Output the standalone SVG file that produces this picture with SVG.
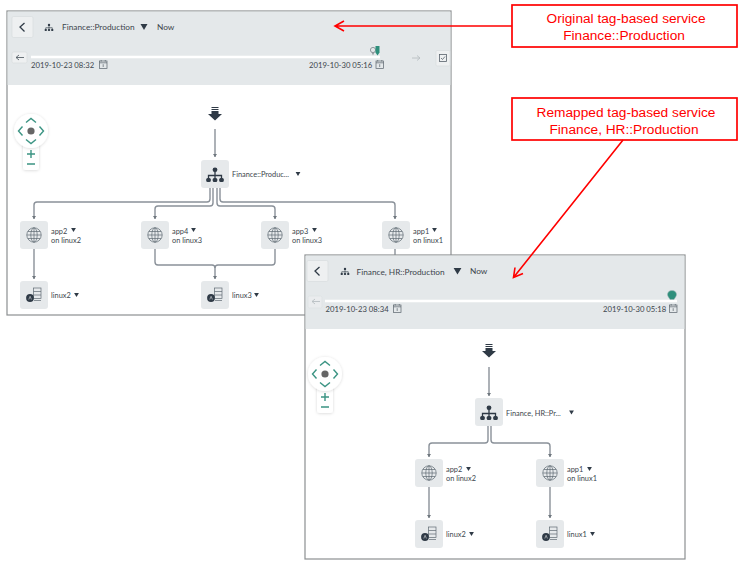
<svg xmlns="http://www.w3.org/2000/svg" width="740" height="565" viewBox="0 0 740 565">
<style>
text{font-family:Lato,"Liberation Sans",sans-serif;fill:#3d464d}
.panel{fill:#fff;stroke:#8c8f91;stroke-width:1.2}
.hdr{fill:#e4e8ea}
.title{font-size:8.3px}
.date{font-size:7.7px}
.lbl{font-size:7.4px}
.box{fill:#e6e9eb}
.conn{fill:none;stroke:#8a9199;stroke-width:1.4}
.red{fill:none;stroke:#f00;stroke-width:1.6}
.callout{fill:#fff;stroke:#f00;stroke-width:1.7}
.ctext{font-family:"Liberation Sans",Arial,sans-serif;font-size:13.7px;fill:#f00;text-anchor:middle}
.btn{fill:#eef0f1;stroke:#d8dcde;stroke-width:.7}
.ink{fill:#2f3a46}
.line{fill:none;stroke:#5f6a73;stroke-width:.7}
.teal{fill:none;stroke:#3b9483;stroke-width:1.4}
.track{stroke:#fff;stroke-width:2.6}
</style>
<defs>
<marker id="ah" markerWidth="5" markerHeight="5" refX="3" refY="2" orient="auto" markerUnits="userSpaceOnUse"><path d="M0 0L3 2L0 4Z" fill="#6e767d"/></marker>
<filter id="sh" x="-40%" y="-40%" width="180%" height="180%"><feDropShadow dx="0" dy="0.5" stdDeviation="1.8" flood-color="#000" flood-opacity=".16"/></filter>
<symbol id="tree" viewBox="0 0 28 28" overflow="visible">
<path d="M14 12V16M7.5 19V15.5H20.5V19M14 16V19" fill="none" stroke="#2f3a46" stroke-width="1.3"/>
<circle cx="14" cy="9.8" r="2.4" class="ink"/><rect x="5.2" y="18" width="4.6" height="4" rx="1.5" class="ink"/><rect x="11.7" y="18" width="4.6" height="4" rx="1.5" class="ink"/><rect x="18.2" y="18" width="4.6" height="4" rx="1.5" class="ink"/>
</symbol>
<symbol id="globe" viewBox="0 0 28 28" overflow="visible">
<circle cx="14" cy="14" r="7.2" class="line"/><ellipse cx="14" cy="14" rx="3.2" ry="7.2" class="line"/><path d="M14 6.8V21.2M6.8 14H21.2M7.8 10.500H20.200M7.8 17.500H20.200" class="line"/>
</symbol>
<symbol id="host" viewBox="0 0 28 28" overflow="visible">
<rect x="13.500" y="7" width="7.500" height="10.500" class="line"/><path d="M13.500 10.500H21M13.500 14H21M14 19.500H21" class="line"/><circle cx="10" cy="17" r="3.900" class="ink"/><path d="M8.800 18.500L10.100 15.300L11.400 18.500" fill="none" stroke="#fff" stroke-width=".5"/>
</symbol>
<symbol id="cal" viewBox="0 0 9 9" overflow="visible">
<rect x=".5" y="1" width="7.500" height="7.500" fill="none" stroke="#59636b" stroke-width=".7"/><path d="M.5 2.800H8M2.200 0V1.500M6.300 0V1.500M4.200 4.200V7" fill="none" stroke="#59636b" stroke-width=".7"/>
</symbol>
<symbol id="tri" viewBox="0 0 6 5" overflow="visible"><path d="M0 0H6L3 5Z" fill="#2f3a46"/></symbol>
<symbol id="drop" viewBox="0 0 16 14" overflow="visible"><path d="M4.500 0H11.500V1H4.500ZM4.500 2H11.500V3H4.500ZM4.500 4H11.500V7H15L8 13.500L1 7H4.500Z" fill="#2f3a46"/></symbol>
<symbol id="zoomctl" viewBox="0 0 36 46" overflow="visible">
<path d="M10 30H26V54Q26 57 23 57H13Q10 57 10 54Z" fill="#fff" filter="url(#sh)"/>
<circle cx="18" cy="18" r="17" fill="#fff" filter="url(#sh)"/>
<path d="M13 9.500L18 5.500L23 9.500M13 26.500L18 30.500L23 26.500M9.500 13.500L5.500 18L9.500 22.500M26.500 13.500L30.500 18L26.500 22.500" class="teal"/>
<circle cx="18" cy="18" r="3.600" fill="#666"/>
<path d="M18 37V45M14 41H22M14 51H22" class="teal"/>
</symbol>
</defs>

<g id="panel-original">
<rect class="panel" x="7" y="11" width="444" height="304"/>
<rect class="hdr" x="7.600" y="11.600" width="442.800" height="73.400"/>
<rect class="btn" x="12" y="16.500" width="21" height="21" rx="1.500"/>
<path d="M24.500 23L20 27L24.500 31.500" fill="none" stroke="#2f3a46" stroke-width="1.3"/>
<use href="#tree" x="42" y="20" width="14" height="14"/>
<text class="title" x="62" y="30.300">Finance::Production</text>
<use href="#tri" x="140.500" y="24" width="7" height="6"/>
<text class="title" x="157" y="29.500">Now</text>
<rect class="btn" x="12" y="52" width="15" height="11" rx="1.500"/>
<path d="M24 57.500H16M19 55L16 57.500L19 60" fill="none" stroke="#59636b" stroke-width=".9"/>
<line class="track" x1="31" y1="57" x2="380" y2="57"/>
<text class="date" x="31" y="68">2019-10-23 08:32</text>
<use href="#cal" x="99" y="60" width="9" height="9"/>
<text class="date" x="309" y="68">2019-10-30 05:16</text>
<use href="#cal" x="375.500" y="60" width="9" height="9"/>
<circle cx="373" cy="50" r="2.600" fill="none" stroke="#8f979c" stroke-width="1"/><path d="M371.500 52L373 55.500L374.500 52" fill="#8f979c"/>
<path d="M375.500 46h4v6.500l-2 3l-2-3z" fill="#2f8f7c"/>
<path d="M412 58H420M417 55.500L420 58L417 60.500" fill="none" stroke="#b9bfc3" stroke-width=".9"/>
<rect class="btn" x="436" y="50.500" width="14" height="15.500" rx="1"/>
<rect x="439.500" y="54.500" width="7" height="7" fill="none" stroke="#59636b" stroke-width=".8"/><path d="M441 58L442.500 59.500L445 56.500" fill="none" stroke="#59636b" stroke-width=".8"/>
<use href="#drop" x="207" y="107" width="16" height="14"/>
<use href="#zoomctl" x="13" y="113" width="36" height="46"/>
</g>

<g id="connectors-original">
<path class="conn" d="M215 129V157" marker-end="url(#ah)"/>
<path class="conn" d="M210 188V199Q210 202 207 202H37Q34 202 34 205V219" marker-end="url(#ah)"/>
<path class="conn" d="M213 188V203Q213 206 210 206H158Q155 206 155 209V219" marker-end="url(#ah)"/>
<path class="conn" d="M217 188V203Q217 206 220 206H272Q275 206 275 209V219" marker-end="url(#ah)"/>
<path class="conn" d="M220 188V199Q220 202 223 202H392Q395 202 395 205V219" marker-end="url(#ah)"/>
<path class="conn" d="M34 249V279" marker-end="url(#ah)"/>
<path class="conn" d="M155 249V262Q155 265 158 265H212Q215 265 215 268V279" marker-end="url(#ah)"/>
<path class="conn" d="M275 249V262Q275 265 272 265H218Q215 265 215 268"/>
<path class="conn" d="M395 249V262"/>
</g>

<g id="node-service-original"><rect class="box" x="201" y="160" width="28" height="28" rx="3"/><use href="#tree" x="201" y="160" width="28" height="28"/><text class="lbl" x="232" y="177">Finance::Produc...</text><use href="#tri" x="295.500" y="172" width="5" height="4"/></g>
<g id="node-app2-original"><rect class="box" x="20" y="221" width="28" height="28" rx="3"/><use href="#globe" x="20" y="221" width="28" height="28"/><text class="lbl" x="51" y="234">app2</text><use href="#tri" x="71" y="228" width="5" height="4"/><text class="lbl" x="51" y="243">on linux2</text></g>
<g id="node-app4-original"><rect class="box" x="141" y="221" width="28" height="28" rx="3"/><use href="#globe" x="141" y="221" width="28" height="28"/><text class="lbl" x="172" y="234">app4</text><use href="#tri" x="191" y="228" width="5" height="4"/><text class="lbl" x="172" y="243">on linux3</text></g>
<g id="node-app3-original"><rect class="box" x="261" y="221" width="28" height="28" rx="3"/><use href="#globe" x="261" y="221" width="28" height="28"/><text class="lbl" x="292" y="234">app3</text><use href="#tri" x="312" y="228" width="5" height="4"/><text class="lbl" x="292" y="243">on linux3</text></g>
<g id="node-app1-original"><rect class="box" x="382" y="221" width="28" height="28" rx="3"/><use href="#globe" x="382" y="221" width="28" height="28"/><text class="lbl" x="413" y="234">app1</text><use href="#tri" x="432" y="228" width="5" height="4"/><text class="lbl" x="413" y="243">on linux1</text></g>
<g id="node-linux2-original"><rect class="box" x="20" y="281" width="28" height="28" rx="3"/><use href="#host" x="20" y="281" width="28" height="28"/><text class="lbl" x="51" y="298">linux2</text><use href="#tri" x="74" y="293" width="5" height="4"/></g>
<g id="node-linux3-original"><rect class="box" x="201" y="281" width="28" height="28" rx="3"/><use href="#host" x="201" y="281" width="28" height="28"/><text class="lbl" x="232" y="298">linux3</text><use href="#tri" x="254" y="293" width="5" height="4"/></g>

<g id="panel-remapped">
<rect class="panel" x="305" y="255" width="380" height="304"/>
<rect class="hdr" x="305.600" y="255.600" width="378.800" height="73.400"/>
<rect class="btn" x="307" y="260.500" width="21" height="21" rx="1.500"/>
<path d="M319.500 267L315 271L319.500 275.500" fill="none" stroke="#2f3a46" stroke-width="1.3"/>
<use href="#tree" x="338" y="264" width="14" height="14"/>
<text class="title" x="356.500" y="274.500">Finance, HR::Production</text>
<use href="#tri" x="453.500" y="268" width="8" height="6.500"/>
<text class="title" x="470" y="273.500">Now</text>
<rect class="btn" x="308" y="296" width="14" height="12" rx="1.500" opacity=".6"/>
<path d="M320 301.500H312M315 299L312 301.500L315 304" fill="none" stroke="#b9bfc3" stroke-width=".9"/>
<line class="track" x1="325" y1="301" x2="677" y2="301"/>
<text class="date" x="325.500" y="312">2019-10-23 08:34</text>
<use href="#cal" x="393" y="304" width="9" height="9"/>
<text class="date" x="603" y="312">2019-10-30 05:18</text>
<use href="#cal" x="669" y="304" width="9" height="9"/>
<path d="M672 290.500c3 0 4.500 2 4.500 4c0 2-1.500 3-2.500 5h-4c-1-2-2.500-3-2.500-5c0-2 1.500-4 4.500-4z" fill="#2f8f7c" stroke="#9fb5b5" stroke-width=".5"/>
<use href="#drop" x="481" y="344" width="16" height="14"/>
<use href="#zoomctl" x="307" y="356" width="36" height="46"/>
</g>

<g id="connectors-remapped">
<path class="conn" d="M489 367V396" marker-end="url(#ah)"/>
<path class="conn" d="M488 426V440Q488 443 485 443H432Q429 443 429 446V457" marker-end="url(#ah)"/>
<path class="conn" d="M491 426V440Q491 443 494 443H547Q550 443 550 446V457" marker-end="url(#ah)"/>
<path class="conn" d="M429 487V518" marker-end="url(#ah)"/>
<path class="conn" d="M550 487V518" marker-end="url(#ah)"/>
</g>

<g id="node-service-remapped"><rect class="box" x="475" y="398" width="28" height="28" rx="3"/><use href="#tree" x="475" y="398" width="28" height="28"/><text class="lbl" x="506" y="415.500">Finance, HR::Pr...</text><use href="#tri" x="569" y="410.500" width="5" height="4"/></g>
<g id="node-app2-remapped"><rect class="box" x="415" y="459" width="28" height="28" rx="3"/><use href="#globe" x="415" y="459" width="28" height="28"/><text class="lbl" x="446" y="472">app2</text><use href="#tri" x="466" y="467" width="5" height="4"/><text class="lbl" x="446" y="481">on linux2</text></g>
<g id="node-app1-remapped"><rect class="box" x="536" y="459" width="28" height="28" rx="3"/><use href="#globe" x="536" y="459" width="28" height="28"/><text class="lbl" x="567" y="472">app1</text><use href="#tri" x="587" y="467" width="5" height="4"/><text class="lbl" x="567" y="481">on linux1</text></g>
<g id="node-linux2-remapped"><rect class="box" x="415" y="520" width="28" height="28" rx="3"/><use href="#host" x="415" y="520" width="28" height="28"/><text class="lbl" x="446" y="537">linux2</text><use href="#tri" x="469" y="532" width="5" height="4"/></g>
<g id="node-linux1-remapped"><rect class="box" x="536" y="520" width="28" height="28" rx="3"/><use href="#host" x="536" y="520" width="28" height="28"/><text class="lbl" x="567" y="537">linux1</text><use href="#tri" x="590" y="532" width="5" height="4"/></g>

<g id="callout-original">
<rect class="callout" x="512" y="5" width="225" height="42"/>
<text class="ctext" x="626" y="23">Original tag-based service</text>
<text class="ctext" x="624" y="40">Finance::Production</text>
</g>
<g id="callout-remapped">
<rect class="callout" x="512" y="98" width="225" height="42"/>
<text class="ctext" x="626" y="117">Remapped tag-based service</text>
<text class="ctext" x="624" y="134">Finance, HR::Production</text>
</g>
<g id="callout-connectors">
<path class="red" d="M512 26H335M344 21L335 26L344 31"/>
<path class="red" d="M623 140L513.500 277.500M515 267.500L513.500 277.500L523 273.500"/>
</g>
</svg>
